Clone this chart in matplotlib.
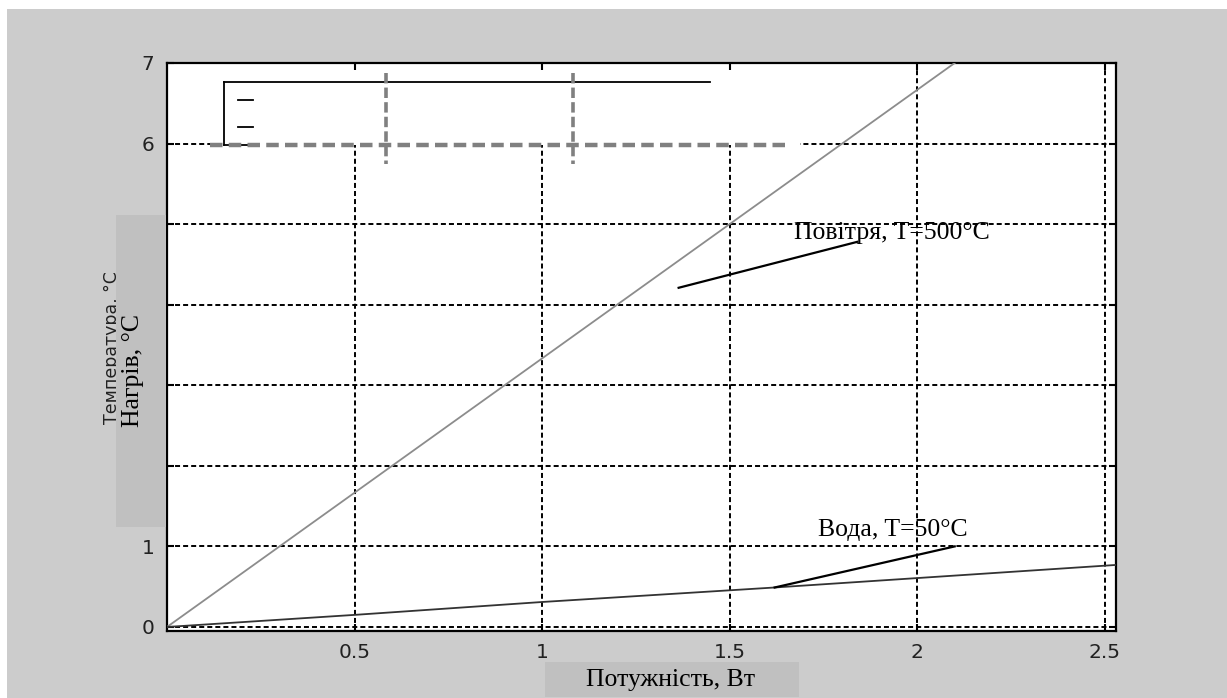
import numpy as np
import matplotlib
matplotlib.use('Agg')
import matplotlib.pyplot as plt
from matplotlib.patches import Rectangle
from matplotlib.lines import Line2D

# data
power_air = [0.0, 0.3, 1.5, 2.1]
heat_air = [0.0, 1.0, 5.0, 7.0]
power_water = [0.0, 0.5, 1.0, 1.62, 2.53]
heat_water = [0.0, 0.15, 0.31, 0.49, 0.77]
x_ticks = [0.5, 1, 1.5, 2, 2.5]
x_tick_labels = ['0.5', '1', '1.5', '2', '2.5']
y_ticks = [0, 1, 2, 3, 4, 5, 6, 7]
y_tick_labels = ['0', '1', '2', '3', '4', '5', '6', '7']

label_air = 'Повітря, T=500°C'
label_water = 'Вода, T=50°C'
xlabel = 'Потужність, Вт'
ylabel = 'Нагрів, °C'
ylabel_hidden = 'Температура, °C'

W, H = 1227, 698
plt.rcParams['lines.scale_dashes'] = False
fig = plt.figure(figsize=(W / 100, H / 100), dpi=100, facecolor='white')


def fx(px):
    return px / W


def fy(py):
    return 1 - py / H


# grey window background
fig.patches.append(Rectangle((fx(7), 0), 1, fy(9), transform=fig.transFigure,
                             facecolor='#cccccc', edgecolor='none', zorder=-10))

ax = fig.add_axes([fx(167), fy(631), fx(1116) - fx(167), fy(63) - fy(631)])
ax.set_facecolor('white')
ax.set_xlim(0.0, 2.53)
ax.set_ylim(-0.05, 7.0)
ax.set_xticks(x_ticks, x_tick_labels)
ax.set_yticks(y_ticks, y_tick_labels)
ax.tick_params(direction='in', length=5, width=1.5, top=True, right=True,
               labelsize=14.5, colors='black')
ax.tick_params(axis='x', pad=9)
ax.tick_params(axis='y', pad=9)
for lab in ax.get_xticklabels() + ax.get_yticklabels():
    lab.set_color('#222222')
for sp in ax.spines.values():
    sp.set_linewidth(1.6)
ax.grid(True, color='black', linestyle=(0, (3.6, 2.2)), linewidth=1.4)

ax.plot(power_air, heat_air, color='#8c8c8c', lw=1.3, zorder=3)
ax.plot(power_water, heat_water, color='#333333', lw=1.3, zorder=3)

# leader lines and labels
ax.plot([1.364, 1.84], [4.21, 4.78], color='black', lw=1.6, zorder=4)
ax.plot([1.62, 2.10], [0.49, 1.0], color='black', lw=1.6, zorder=4)
ax.text(1.933, 4.89, label_air, family='Liberation Serif', fontsize=18.5,
        ha='center', va='center', zorder=5)
ax.text(1.936, 1.20, label_water, family='Liberation Serif', fontsize=18.5,
        ha='center', va='center', zorder=5)

# leftover legend frame
ax.add_patch(Rectangle((fx(210), fy(145)), fx(800) - fx(210), fy(70) - fy(145),
                       transform=fig.transFigure, facecolor='white',
                       edgecolor='none', zorder=2))
legend_lines = [
    ([224, 710], [82, 82]), ([224, 224], [82, 145]),
    ([238, 253], [100, 100]), ([238, 253], [127, 127]),
    ([224, 253], [145, 145]),
]
for xs, ys in legend_lines:
    fig.lines.append(Line2D([fx(v) for v in xs], [fy(v) for v in ys],
                            transform=fig.transFigure, color='black', lw=1.3, zorder=5))
fig.lines.append(Line2D([fx(210), fx(790)], [fy(145), fy(145)],
                        transform=fig.transFigure, color='#808080', lw=3.2,
                        linestyle=(0, (9, 4.5)), zorder=6))
for xv in [386, 573]:
    fig.lines.append(Line2D([fx(xv), fx(xv)], [fy(73), fy(164)],
                            transform=fig.transFigure, color='#808080', lw=2.6,
                            linestyle=(0, (7.5, 3)), zorder=6))

# original axis label, mostly covered
fig.text(fx(103), fy(348), ylabel_hidden, rotation=90, fontsize=12.5,
         family='DejaVu Sans', color='#222222', ha='left', va='center', zorder=1)

# grey label boxes over the axis labels
fig.patches.append(Rectangle((fx(116), fy(527)), fx(166) - fx(116), fy(215) - fy(527),
                             transform=fig.transFigure, facecolor='#c0c0c0',
                             edgecolor='none', zorder=8))
fig.patches.append(Rectangle((fx(545), fy(697)), fx(799) - fx(545), fy(662) - fy(697),
                             transform=fig.transFigure, facecolor='#c0c0c0',
                             edgecolor='none', zorder=8))
fig.text(fx(133), fy(370), ylabel, rotation=90, family='Liberation Serif',
         fontsize=18.5, ha='center', va='center', zorder=9)
fig.text(fx(671), fy(680), xlabel, family='Liberation Serif',
         fontsize=18.5, ha='center', va='center', zorder=9)

fig.savefig('out.png', dpi=100)
